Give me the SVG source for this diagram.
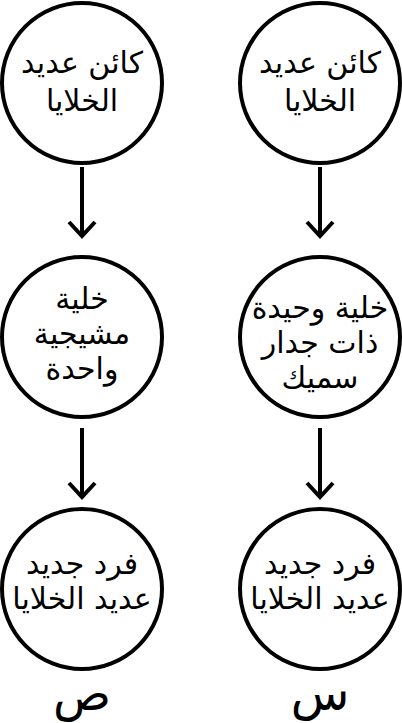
<svg xmlns="http://www.w3.org/2000/svg" width="402" height="723" viewBox="0 0 402 723">
<style>
.n{fill:#fff;stroke:#000;stroke-width:4}
.t{font-family:"DejaVu Sans",sans-serif;font-size:30px;fill:#000;text-anchor:middle}
.lab{font-family:"DejaVu Sans",sans-serif;font-size:48px;fill:#000;text-anchor:middle}
.c{stroke:#000;stroke-width:4;fill:none}
</style>
<rect width="402" height="723" fill="#fff"/>
<g id="connectors">
<line class="c" x1="82" y1="167" x2="82" y2="236"/><polyline class="c" points="69,222 82,236 95,222"/>
<line class="c" x1="320" y1="167" x2="320" y2="236"/><polyline class="c" points="307,222 320,236 333,222"/>
<line class="c" x1="82" y1="428" x2="82" y2="497"/><polyline class="c" points="69,483 82,497 95,483"/>
<line class="c" x1="320" y1="428" x2="320" y2="497"/><polyline class="c" points="307,483 320,497 333,483"/>
</g>
<g id="left-top"><circle class="n" cx="82" cy="83" r="80"/><text class="t" x="82" y="73" direction="rtl">كائن عديد</text><text class="t" x="82" y="111" direction="rtl">الخلايا</text></g>
<g id="right-top"><circle class="n" cx="320" cy="83" r="80"/><text class="t" x="320" y="73" direction="rtl">كائن عديد</text><text class="t" x="320" y="111" direction="rtl">الخلايا</text></g>
<g id="left-mid"><circle class="n" cx="82" cy="337" r="80"/><text class="t" x="82" y="309" direction="rtl">خلية</text><text class="t" x="82" y="344" direction="rtl">مشيجية</text><text class="t" x="82" y="379" direction="rtl">واحدة</text></g>
<g id="right-mid"><circle class="n" cx="320" cy="337" r="80"/><text class="t" x="320" y="318" direction="rtl">خلية وحيدة</text><text class="t" x="320" y="353" direction="rtl">ذات جدار</text><text class="t" x="320" y="388" direction="rtl">سميك</text></g>
<g id="left-bot"><circle class="n" cx="82" cy="589" r="80"/><text class="t" x="82" y="574" direction="rtl">فرد جديد</text><text class="t" x="82" y="609" direction="rtl">عديد الخلايا</text></g>
<g id="right-bot"><circle class="n" cx="320" cy="589" r="80"/><text class="t" x="320" y="574" direction="rtl">فرد جديد</text><text class="t" x="320" y="609" direction="rtl">عديد الخلايا</text></g>
<text class="lab" x="82" y="710">ص</text>
<text class="lab" x="320" y="710">س</text>
</svg>
